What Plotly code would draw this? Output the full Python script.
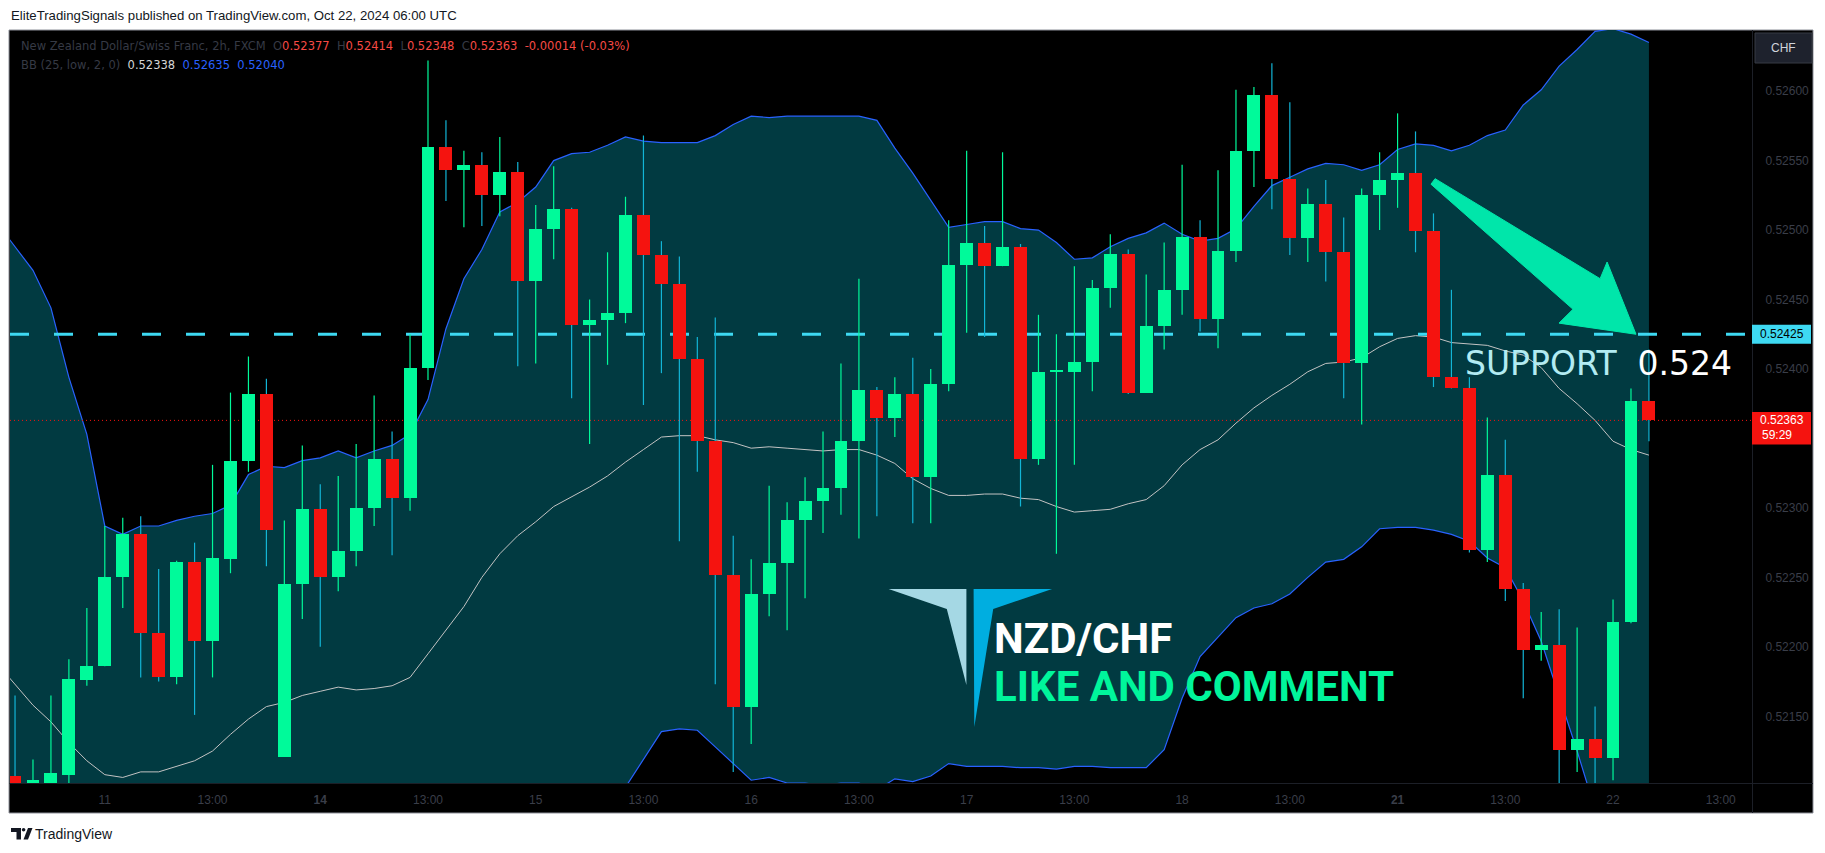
import plotly.graph_objects as go

# ---------------- data (NZD/CHF, 2h candles, FXCM) ----------------
OPEN = [0.52107, 0.52101, 0.52102, 0.52108, 0.52176, 0.52186, 0.52250, 0.52281, 0.52210, 0.52178,
        0.52261, 0.52204, 0.52263, 0.52334, 0.52382, 0.52121, 0.52245, 0.52299, 0.52250, 0.52269,
        0.52300, 0.52335, 0.52307, 0.52401, 0.52560, 0.52543, 0.52547, 0.52525, 0.52542, 0.52463,
        0.52501, 0.52515, 0.52432, 0.52435, 0.52440, 0.52511, 0.52482, 0.52461, 0.52407, 0.52348,
        0.52252, 0.52157, 0.52238, 0.52260, 0.52291, 0.52305, 0.52314, 0.52348, 0.52385, 0.52365,
        0.52382, 0.52322, 0.52389, 0.52475, 0.52491, 0.52474, 0.52488, 0.52335, 0.52398, 0.52398,
        0.52405, 0.52458, 0.52483, 0.52383, 0.52431, 0.52457, 0.52495, 0.52436, 0.52485, 0.52557,
        0.52597, 0.52537, 0.52494, 0.52519, 0.52484, 0.52404, 0.52525, 0.52536, 0.52541, 0.52499,
        0.52394, 0.52386, 0.52270, 0.52324, 0.52242, 0.52198, 0.52201, 0.52126, 0.52134, 0.52120,
        0.52218, 0.52377]
HIGH = [0.52165, 0.52119, 0.52165, 0.52191, 0.52228, 0.52287, 0.52293, 0.52294, 0.52256, 0.52262,
        0.52275, 0.52331, 0.52383, 0.52409, 0.52393, 0.52291, 0.52345, 0.52317, 0.52323, 0.52346,
        0.52381, 0.52355, 0.52425, 0.52622, 0.52579, 0.52557, 0.52556, 0.52567, 0.52549, 0.52518,
        0.52546, 0.52516, 0.52450, 0.52484, 0.52524, 0.52568, 0.52492, 0.52481, 0.52423, 0.52437,
        0.52280, 0.52263, 0.52316, 0.52304, 0.52322, 0.52355, 0.52404, 0.52465, 0.52387, 0.52394,
        0.52408, 0.52400, 0.52507, 0.52557, 0.52503, 0.52556, 0.52490, 0.52439, 0.52425, 0.52474,
        0.52464, 0.52497, 0.52486, 0.52468, 0.52491, 0.52547, 0.52507, 0.52543, 0.52601, 0.52603,
        0.52620, 0.52592, 0.52530, 0.52536, 0.52509, 0.52530, 0.52556, 0.52584, 0.52571, 0.52512,
        0.52457, 0.52394, 0.52365, 0.52349, 0.52246, 0.52225, 0.52227, 0.52214, 0.52157, 0.52234,
        0.52386, 0.52414]
LOW = [0.52095, 0.52098, 0.52100, 0.52101, 0.52172, 0.52186, 0.52228, 0.52178, 0.52175, 0.52173,
       0.52151, 0.52178, 0.52253, 0.52326, 0.52258, 0.52121, 0.52220, 0.52200, 0.52240, 0.52258,
       0.52287, 0.52266, 0.52298, 0.52392, 0.52521, 0.52502, 0.52503, 0.52510, 0.52402, 0.52404,
       0.52479, 0.52379, 0.52346, 0.52403, 0.52433, 0.52374, 0.52397, 0.52276, 0.52326, 0.52173,
       0.52110, 0.52130, 0.52222, 0.52212, 0.52235, 0.52282, 0.52295, 0.52278, 0.52294, 0.52351,
       0.52289, 0.52289, 0.52384, 0.52426, 0.52423, 0.52474, 0.52301, 0.52331, 0.52267, 0.52331,
       0.52384, 0.52444, 0.52382, 0.52383, 0.52414, 0.52439, 0.52427, 0.52415, 0.52477, 0.52531,
       0.52515, 0.52482, 0.52477, 0.52463, 0.52379, 0.52360, 0.52500, 0.52516, 0.52484, 0.52387,
       0.52386, 0.52268, 0.52261, 0.52233, 0.52163, 0.52190, 0.52095, 0.52110, 0.52095, 0.52104,
       0.52217, 0.52348]
CLOSE = [0.52100, 0.52104, 0.52109, 0.52177, 0.52186, 0.52250, 0.52281, 0.52210, 0.52178, 0.52261,
         0.52204, 0.52264, 0.52334, 0.52382, 0.52284, 0.52245, 0.52299, 0.52250, 0.52269, 0.52300,
         0.52335, 0.52307, 0.52401, 0.52560, 0.52543, 0.52547, 0.52525, 0.52542, 0.52463, 0.52501,
         0.52515, 0.52432, 0.52435, 0.52440, 0.52511, 0.52482, 0.52461, 0.52407, 0.52348, 0.52252,
         0.52157, 0.52238, 0.52260, 0.52291, 0.52305, 0.52314, 0.52348, 0.52385, 0.52365, 0.52382,
         0.52322, 0.52389, 0.52475, 0.52491, 0.52474, 0.52488, 0.52335, 0.52398, 0.52399, 0.52405,
         0.52458, 0.52483, 0.52383, 0.52431, 0.52457, 0.52495, 0.52436, 0.52485, 0.52557, 0.52597,
         0.52537, 0.52494, 0.52519, 0.52484, 0.52404, 0.52525, 0.52536, 0.52541, 0.52499, 0.52394,
         0.52386, 0.52270, 0.52324, 0.52242, 0.52198, 0.52201, 0.52126, 0.52134, 0.52120, 0.52218,
         0.52377, 0.52363]

# Bollinger Bands (25, low, 2) — one extra leading value (bar before the first visible candle)
BB_UPPER = [0.52505, 0.52488, 0.52471, 0.52444, 0.52394, 0.52353, 0.52287, 0.52281, 0.52287, 0.52287,
            0.52291, 0.52294, 0.52296, 0.52302, 0.52324, 0.52330, 0.52329, 0.52334, 0.52336, 0.52341,
            0.52336, 0.52341, 0.52345, 0.52353, 0.52378, 0.52429, 0.52465, 0.52486, 0.52513, 0.52520,
            0.52531, 0.52550, 0.52555, 0.52556, 0.52561, 0.52567, 0.52564, 0.52563, 0.52563, 0.52563,
            0.52568, 0.52576, 0.52582, 0.52581, 0.52582, 0.52582, 0.52582, 0.52582, 0.52582, 0.52579,
            0.52559, 0.52541, 0.52521, 0.52502, 0.52504, 0.52506, 0.52506, 0.52501, 0.52500, 0.52491,
            0.52479, 0.52480, 0.52488, 0.52494, 0.52498, 0.52505, 0.52497, 0.52492, 0.52494, 0.52501,
            0.52517, 0.52532, 0.52538, 0.52544, 0.52548, 0.52547, 0.52543, 0.52547, 0.52558, 0.52562,
            0.52561, 0.52557, 0.52561, 0.52568, 0.52572, 0.52590, 0.52601, 0.52618, 0.52630, 0.52643,
            0.52645, 0.52641, 0.52635]
BB_BASIS = [0.52188, 0.52173, 0.52158, 0.52146, 0.52131, 0.52118, 0.52108, 0.52106, 0.52110, 0.52110,
            0.52114, 0.52118, 0.52125, 0.52137, 0.52148, 0.52157, 0.52160, 0.52165, 0.52168, 0.52171,
            0.52169, 0.52170, 0.52172, 0.52178, 0.52195, 0.52212, 0.52229, 0.52250, 0.52267, 0.52280,
            0.52290, 0.52301, 0.52308, 0.52315, 0.52323, 0.52333, 0.52342, 0.52351, 0.52352, 0.52352,
            0.52349, 0.52347, 0.52343, 0.52344, 0.52343, 0.52342, 0.52341, 0.52342, 0.52342, 0.52338,
            0.52332, 0.52321, 0.52314, 0.52309, 0.52309, 0.52310, 0.52310, 0.52307, 0.52306, 0.52301,
            0.52297, 0.52298, 0.52299, 0.52303, 0.52306, 0.52316, 0.52331, 0.52342, 0.52349, 0.52361,
            0.52372, 0.52381, 0.52389, 0.52398, 0.52404, 0.52405, 0.52408, 0.52416, 0.52422, 0.52424,
            0.52423, 0.52419, 0.52418, 0.52417, 0.52413, 0.52410, 0.52401, 0.52386, 0.52375, 0.52363,
            0.52348, 0.52342, 0.52338]
BB_LOWER = [0.51871, 0.51858, 0.51845, 0.51848, 0.51868, 0.51883, 0.51929, 0.51931, 0.51933, 0.51933,
            0.51937, 0.51942, 0.51954, 0.51972, 0.51972, 0.51984, 0.51991, 0.51996, 0.52000, 0.52001,
            0.52002, 0.51999, 0.51999, 0.52003, 0.52012, 0.51995, 0.51993, 0.52014, 0.52021, 0.52040,
            0.52049, 0.52052, 0.52061, 0.52074, 0.52085, 0.52099, 0.52119, 0.52139, 0.52141, 0.52140,
            0.52128, 0.52116, 0.52104, 0.52106, 0.52102, 0.52102, 0.52100, 0.52102, 0.52102, 0.52097,
            0.52105, 0.52103, 0.52107, 0.52116, 0.52114, 0.52114, 0.52114, 0.52113, 0.52113, 0.52112,
            0.52114, 0.52114, 0.52113, 0.52113, 0.52113, 0.52126, 0.52163, 0.52193, 0.52207, 0.52221,
            0.52228, 0.52231, 0.52238, 0.52250, 0.52261, 0.52263, 0.52272, 0.52285, 0.52286, 0.52286,
            0.52284, 0.52281, 0.52276, 0.52264, 0.52257, 0.52233, 0.52204, 0.52165, 0.52125, 0.52083,
            0.52052, 0.52043, 0.52040]

TIME_TICK_POS = [5, 11, 17, 23, 29, 35, 41, 47, 53, 59, 65, 71, 77, 83, 89, 95]
TIME_TICK_TEXT = ["11", "13:00", "<b>14</b>", "13:00", "15", "13:00", "16", "13:00",
                  "17", "13:00", "18", "13:00", "<b>21</b>", "13:00", "22", "13:00"]
PRICE_TICKS = [0.52150, 0.52200, 0.52250, 0.52300, 0.52400, 0.52450, 0.52500, 0.52550, 0.52600]
SUPPORT_LEVEL = 0.52425
# arrow drawing (candle index, price)
ARROW_PTS = [(79.09, 0.52537), (88.28, 0.52465), (88.67, 0.52477), (90.28, 0.52425),
             (85.99, 0.52433), (86.77, 0.52443), (78.86, 0.52533)]

# ---------------- layout geometry (page pixel coordinates) ----------------
OFF = 8                          # default body margin of the html page
W, H = 1825 - 2 * OFF, 853 - 2 * OFF
PL, PR, PT, PB = 10, 1752, 30, 783   # plot area on the page
ML, MR, MT, MB = PL - OFF, (W + OFF) - PR, PT - OFF, (H + OFF) - PB
X_RANGE = [-0.28, 96.74]
Y_RANGE = [0.52102, 0.52644]


def pxx(x):
    return (x - PL) / (PR - PL)


def pxy(y):
    return (PB - y) / (PB - PT)


def ppaper(p):
    return (p - Y_RANGE[0]) / (Y_RANGE[1] - Y_RANGE[0])


PH = PB - PT
GREEN = "#00fa9a"
RED = "#f5130f"
RED_WICK = "#12b5d6"
FILL = "#013a41"
BAND = "#2962ff"
BASIS = "#c3c3c3"
CYAN = "#3ed9f2"
DG = "#363a45"
AX = "#3a3e49"

N = len(OPEN)
BX = list(range(-1, N))
LAST = CLOSE[-1]

fig = go.Figure()

# Bollinger fill
fig.add_trace(go.Scatter(x=BX, y=BB_UPPER, mode="lines", line=dict(width=0, color=FILL),
                         hoverinfo="skip", showlegend=False))
fig.add_trace(go.Scatter(x=BX, y=BB_LOWER, mode="lines", line=dict(width=0, color=FILL),
                         fill="tonexty", fillcolor=FILL, hoverinfo="skip", showlegend=False))
# band lines
fig.add_trace(go.Scatter(x=BX, y=BB_BASIS, mode="lines", line=dict(width=1, color=BASIS),
                         hoverinfo="skip", showlegend=False))
fig.add_trace(go.Scatter(x=BX, y=BB_UPPER, mode="lines", line=dict(width=1.2, color=BAND),
                         hoverinfo="skip", showlegend=False))
fig.add_trace(go.Scatter(x=BX, y=BB_LOWER, mode="lines", line=dict(width=1.2, color=BAND),
                         hoverinfo="skip", showlegend=False))
# support dashed line & last price dotted line
fig.add_trace(go.Scatter(x=X_RANGE, y=[SUPPORT_LEVEL] * 2, mode="lines",
                         line=dict(width=3, color=CYAN, dash="19px,25px"),
                         hoverinfo="skip", showlegend=False))
fig.add_trace(go.Scatter(x=X_RANGE, y=[LAST] * 2, mode="lines",
                         line=dict(width=1, color=RED, dash="1px,3px"),
                         hoverinfo="skip", showlegend=False))

# wicks
ux, uy, dx, dy = [], [], [], []
for i, (o, h, l, c) in enumerate(zip(OPEN, HIGH, LOW, CLOSE)):
    if c >= o:
        ux += [i, i, None]
        uy += [l, h, None]
    else:
        dx += [i, i, None]
        dy += [l, h, None]
fig.add_trace(go.Scatter(x=ux, y=uy, mode="lines", line=dict(width=1.2, color=GREEN),
                         hoverinfo="skip", showlegend=False))
fig.add_trace(go.Scatter(x=dx, y=dy, mode="lines", line=dict(width=1.2, color=RED_WICK),
                         hoverinfo="skip", showlegend=False))

# bodies (on overlay axes so they sit above the band fill and the wicks)
MIN_BODY = 0.000009
for up, col in ((True, GREEN), (False, RED)):
    bx, bb, bh = [], [], []
    for i, (o, c) in enumerate(zip(OPEN, CLOSE)):
        if (c >= o) == up:
            bx.append(i)
            bb.append(min(o, c))
            bh.append(max(abs(c - o), MIN_BODY))
    fig.add_trace(go.Bar(x=bx, y=bh, base=bb, width=0.72, marker=dict(color=col, line=dict(width=0)),
                         xaxis="x2", yaxis="y2", hoverinfo="skip", showlegend=False))

shapes = []
# dark chart frame
shapes.append(dict(type="rect", xref="paper", yref="paper", x0=pxx(9), x1=pxx(1813), y0=pxy(813), y1=pxy(30),
                   fillcolor="#000000", line=dict(color="#8d9099", width=1), layer="below"))
# separators
shapes.append(dict(type="line", xref="paper", yref="paper", x0=pxx(1752.5), x1=pxx(1752.5), y0=pxy(813), y1=pxy(30),
                   line=dict(color="#1c1f27", width=1), layer="above"))
shapes.append(dict(type="line", xref="paper", yref="paper", x0=pxx(9.5), x1=pxx(1813), y0=pxy(783.5), y1=pxy(783.5),
                   line=dict(color="#1c1f27", width=1), layer="above"))
# arrow
arrow_path = "M " + " L ".join(f"{x},{y}" for x, y in ARROW_PTS) + " Z"
shapes.append(dict(type="path", xref="x", yref="y", path=arrow_path, fillcolor="#00e6aa",
                   line=dict(color="#00e6aa", width=1), layer="above"))


def ppath(pts):
    return "M " + " L ".join(f"{pxx(x)},{pxy(y)}" for x, y in pts) + " Z"


# logo
shapes.append(dict(type="path", xref="paper", yref="paper",
                   path=ppath([(888.6, 589), (966.4, 589), (966.4, 685), (946.8, 609)]),
                   fillcolor="#a5d8e4", line=dict(width=0), layer="above"))
shapes.append(dict(type="path", xref="paper", yref="paper",
                   path=ppath([(973.6, 589), (1052.1, 589), (993.2, 609), (974.3, 727)]),
                   fillcolor="#00aee0", line=dict(width=0), layer="above"))
# price-axis labels
sp = ppaper(SUPPORT_LEVEL)
shapes.append(dict(type="rect", xref="paper", yref="paper", x0=pxx(1752), x1=pxx(1811),
                   y0=sp - 9.5 / PH, y1=sp + 9.5 / PH, fillcolor=CYAN, line=dict(width=0), layer="above"))
lp = ppaper(LAST)
shapes.append(dict(type="rect", xref="paper", yref="paper", x0=pxx(1752), x1=pxx(1811),
                   y0=lp - 24 / PH, y1=lp + 8.5 / PH, fillcolor=RED, line=dict(width=0), layer="above"))
# currency button
shapes.append(dict(type="rect", xref="paper", yref="paper", x0=pxx(1755), x1=pxx(1812),
                   y0=pxy(63), y1=pxy(33), fillcolor="#1e222d", line=dict(color="#363a45", width=1),
                   layer="above"))
# TradingView logo mark
shapes.append(dict(type="path", xref="paper", yref="paper",
                   path=ppath([(11, 828), (21, 828), (21, 839.5), (16.5, 839.5), (16.5, 832), (11, 832)]),
                   fillcolor="#131722", line=dict(width=0)))
shapes.append(dict(type="circle", xref="paper", yref="paper", x0=pxx(21.8), x1=pxx(25.4),
                   y0=pxy(831.6), y1=pxy(828), fillcolor="#131722", line=dict(width=0)))
shapes.append(dict(type="path", xref="paper", yref="paper",
                   path=ppath([(28, 828), (32.5, 828), (28, 839.5), (23.5, 839.5)]),
                   fillcolor="#131722", line=dict(width=0)))

ann = []
ann.append(dict(xref="paper", yref="paper", x=pxx(9), y=pxy(15), xanchor="left", yanchor="middle",
                text="EliteTradingSignals published on TradingView.com, Oct 22, 2024 06:00 UTC",
                showarrow=False, font=dict(family="Liberation Sans", size=13.2, color="#131722")))
ann.append(dict(xref="paper", yref="paper", x=pxx(33), y=pxy(834), xanchor="left", yanchor="middle",
                text="TradingView", showarrow=False,
                font=dict(family="Liberation Sans", size=14, color="#131722")))

RV = "#f74a45"
chg = CLOSE[-1] - OPEN[-1]
pct = chg / OPEN[-1] * 100
S2 = "\u00a0\u00a0"
line1 = (f"<span style='color:{DG}'>New Zealand Dollar/Swiss Franc, 2h, FXCM{S2}O</span>"
         f"<span style='color:{RV}'>{OPEN[-1]:.5f}</span>"
         f"<span style='color:{DG}'>{S2}H</span><span style='color:{RV}'>{HIGH[-1]:.5f}</span>"
         f"<span style='color:{DG}'>{S2}L</span><span style='color:{RV}'>{LOW[-1]:.5f}</span>"
         f"<span style='color:{DG}'>{S2}C</span><span style='color:{RV}'>{CLOSE[-1]:.5f}</span>"
         f"<span style='color:{RV}'>{S2}{chg:+.5f} ({pct:+.2f}%)</span>")
line2 = (f"<span style='color:{DG}'>BB (25, low, 2, 0)</span>{S2}"
         f"<span style='color:#d6d6d6'>{BB_BASIS[-1]:.5f}</span>{S2}"
         f"<span style='color:{BAND}'>{BB_UPPER[-1]:.5f}</span>{S2}"
         f"<span style='color:{BAND}'>{BB_LOWER[-1]:.5f}</span>")
ann.append(dict(xref="paper", yref="paper", x=pxx(19), y=pxy(46.5), xanchor="left", yanchor="middle",
                text=line1, showarrow=False, font=dict(family="DejaVu Sans", size=11.5, color=DG)))
ann.append(dict(xref="paper", yref="paper", x=pxx(19), y=pxy(65), xanchor="left", yanchor="middle",
                text=line2, showarrow=False, font=dict(family="DejaVu Sans", size=11.5, color=DG)))

ann.append(dict(xref="paper", yref="paper", x=pxx(1781.5), y=sp, xanchor="center", yanchor="middle",
                text=f"{SUPPORT_LEVEL:.5f}", showarrow=False,
                font=dict(family="Liberation Sans", size=12, color="#000000")))
ann.append(dict(xref="paper", yref="paper", x=pxx(1781.5), y=lp, xanchor="center", yanchor="middle",
                text=f"{LAST:.5f}", showarrow=False,
                font=dict(family="Liberation Sans", size=12, color="#ffffff")))
ann.append(dict(xref="paper", yref="paper", x=pxx(1777), y=lp - 15 / PH, xanchor="center", yanchor="middle",
                text="59:29", showarrow=False,
                font=dict(family="Liberation Sans", size=12, color="#ffffff")))
ann.append(dict(xref="paper", yref="paper", x=pxx(1783.5), y=pxy(48), xanchor="center", yanchor="middle",
                text="CHF", showarrow=False,
                font=dict(family="Liberation Sans", size=12, color="#d1d4dc")))

ann.append(dict(xref="paper", yref="paper", x=pxx(1463), y=pxy(363), xanchor="left", yanchor="middle",
                text="<span style='color:#b2ebf2'>SUPPORT</span>\u00a0\u00a0<span style='color:#ffffff'>0.524</span>",
                showarrow=False, font=dict(family="DejaVu Sans", size=33, color="#b2ebf2")))
ann.append(dict(xref="paper", yref="paper", x=pxx(992), y=pxy(638), xanchor="left", yanchor="middle",
                text="<b>NZD/CHF</b>", showarrow=False,
                font=dict(family="Roboto", size=42, color="#ffffff")))
ann.append(dict(xref="paper", yref="paper", x=pxx(992), y=pxy(686), xanchor="left", yanchor="middle",
                text="<b>LIKE AND COMMENT</b>", showarrow=False,
                font=dict(family="Roboto", size=42, color="#00f59b")))

fig.update_layout(
    width=W, height=H, autosize=False,
    margin=dict(l=ML, r=MR, t=MT, b=MB, pad=0),
    paper_bgcolor="#ffffff", plot_bgcolor="#000000",
    showlegend=False, barmode="overlay", bargap=0,
    xaxis=dict(range=X_RANGE, tickmode="array", tickvals=TIME_TICK_POS, ticktext=TIME_TICK_TEXT,
               showgrid=False, zeroline=False, showline=False, ticks="outside", ticklen=6,
               tickcolor="rgba(0,0,0,0)", tickfont=dict(family="Liberation Sans", size=12, color=AX),
               fixedrange=True),
    yaxis=dict(range=Y_RANGE, side="right", tickmode="array", tickvals=PRICE_TICKS,
               ticktext=[f"{v:.5f}" for v in PRICE_TICKS], showgrid=False, zeroline=False,
               showline=False, ticks="outside", ticklen=10, tickcolor="rgba(0,0,0,0)",
               tickfont=dict(family="Liberation Sans", size=12, color=AX), fixedrange=True),
    xaxis2=dict(range=X_RANGE, overlaying="x", anchor="y2", visible=False, fixedrange=True),
    yaxis2=dict(range=Y_RANGE, overlaying="y", anchor="x2", side="right", visible=False, fixedrange=True),
    shapes=shapes, annotations=ann,
)

fig.write_html("out.html")
